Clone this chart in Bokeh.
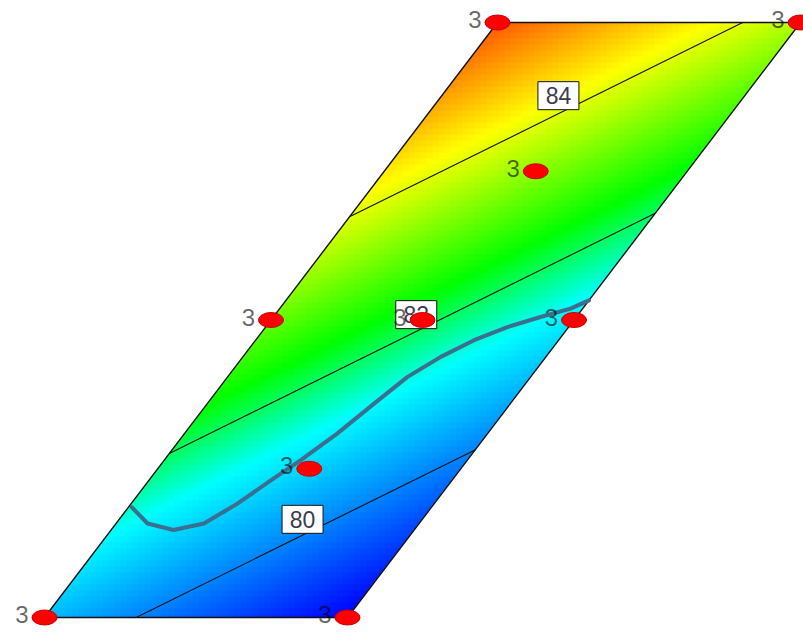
import numpy as np
from bokeh.plotting import figure
from bokeh.models import Range1d
from bokeh.embed import file_html
from bokeh.resources import INLINE
from bokeh.core.properties import value

# ---- data -----------------------------------------------------------------
# Design points in coded factor space: A runs along the base, B along the slanted side
design_a = [0.0, 1.0, 0.0, 1.0, 0.0, 1.0, 0.5, 0.5, 0.5]
design_b = [0.0, 0.0, 1.0, 1.0, 0.5, 0.5, 0.5, 0.75, 0.25]
replicates = ["3", "3", "3", "3", "3", "3", "3", "3", "3"]
response = [80.61, 78.58, 85.64, 83.61, 83.12, 81.09, 82.12, 83.38, 80.87]

# Contour levels and where their tags sit (coded A, B)
contour_levels = [80, 82, 84]
tag_a = [0.605, 0.466, 0.385]
tag_b = [0.165, 0.509, 0.877]

# Overlay boundary traced across the region (coded A, B)
bound_a = [0.012, 0.104, 0.206, 0.290, 0.350, 0.402, 0.450, 0.504, 0.550,
           0.593, 0.653, 0.721, 0.798, 0.882, 0.960, 1.0]
bound_b = [0.185, 0.158, 0.147, 0.158, 0.191, 0.230, 0.264, 0.309, 0.359,
           0.404, 0.438, 0.466, 0.488, 0.505, 0.519, 0.533]

# ---- geometry of the slanted design region on the canvas -------------------
W, H = 803, 632
X0, Y0 = 44.0, 15.0          # bottom-left vertex
BASE = 303.0                 # length of the horizontal sides
SX, SY = 453.0, 595.0        # slanted side vector


def to_xy(a, b):
    a = np.asarray(a, dtype=float)
    b = np.asarray(b, dtype=float)
    return X0 + BASE * a + SX * b, Y0 + SY * b


def to_ab(x, y):
    b = (y - Y0) / SY
    a = (x - X0 - SX * b) / BASE
    return a, b


# ---- linear model fitted to the design responses --------------------------
A = np.column_stack([np.ones(len(design_a)), design_a, design_b])
coef, *_ = np.linalg.lstsq(A, np.asarray(response), rcond=None)
c0, c1, c2 = coef


def model(a, b):
    return c0 + c1 * a + c2 * b


# colour ramp: blue - cyan - green - yellow - red
ramp_at = [78.6, 81.3, 82.4, 84.2, 86.4]
ramp_rgb = np.array([(0, 0, 255), (0, 255, 255), (0, 255, 0),
                     (255, 255, 0), (255, 0, 0)], dtype=float)

# ---- raster of the response surface ---------------------------------------
CELL = 6.0
xs = np.arange(W) + 0.5
ys = np.arange(H) + 0.5
XX, YY = np.meshgrid(xs, ys)
BX = (np.floor(XX / CELL) + 0.5) * CELL
BY = (np.floor(YY / CELL) + 0.5) * CELL
ba, bb = to_ab(BX, BY)
F = model(ba, bb)

pa, pb = to_ab(XX, YY)
perp = BASE * SY / np.hypot(SX, SY)
dist = np.minimum.reduce([pb * SY, (1 - pb) * SY, pa * perp, (1 - pa) * perp])
alpha = np.clip(dist + 0.5, 0, 1)

img = np.zeros((H, W), dtype=np.uint32)
view = img.view(dtype=np.uint8).reshape((H, W, 4))
for k in range(3):
    view[:, :, k] = np.interp(F, ramp_at, ramp_rgb[:, k]).astype(np.uint8)
view[:, :, 3] = (alpha * 255).astype(np.uint8)

# ---- figure -----------------------------------------------------------------
p = figure(width=W, height=H, x_range=Range1d(0, W), y_range=Range1d(0, H),
           output_backend="svg", toolbar_location=None, min_border=0,
           x_axis_location=None, y_axis_location=None,
           outline_line_color=None, background_fill_color="white")
p.grid.visible = False

p.image_rgba(image=[img], x=0, y=0, dw=W, dh=H)

# straight contour lines of the linear model, clipped to the region
for lev in contour_levels:
    a_lo, a_hi = (lev - c0) / c1, (lev - c0 - c2) / c1
    a_start = max(0.0, min(a_lo, a_hi))
    a_end = min(1.0, max(a_lo, a_hi))
    aa = np.array([a_start, a_end])
    bb_ = (lev - c0 - c1 * aa) / c2
    lx, ly = to_xy(aa, bb_)
    p.line(lx, ly, line_color="#111111", line_width=1.1)

# region outline
ox, oy = to_xy([0, 1, 1, 0, 0], [0, 0, 1, 1, 0])
p.line(ox, oy, line_color="#111111", line_width=1.4)

# overlay boundary
ux, uy = to_xy(bound_a, bound_b)
p.line(ux, uy, line_color="#3b6e8f", line_width=4, line_join="round", line_cap="round")

# contour tags
tx, ty = to_xy(tag_a, tag_b)
p.rect(tx, ty, width=41, height=28, fill_color="white", line_color="#111111", line_width=1)
p.text(tx, ty, text=[str(v) for v in contour_levels], text_align="center",
       text_baseline="middle", text_font=value("Liberation Sans"),
       text_font_size="23px", text_color="#3c3c4e")

# design points with replicate counts
dx, dy = to_xy(design_a, design_b)
p.text(dx - 16, dy + 3, text=replicates, text_align="right", text_baseline="middle",
       text_font=value("Liberation Sans"), text_font_size="24px",
       text_color="black", text_alpha=0.6)
p.ellipse(dx, dy, width=25, height=15, fill_color="#ff0000",
          line_color="#c80000", line_width=1)

open("out.html", "w").write(file_html(p, INLINE))
